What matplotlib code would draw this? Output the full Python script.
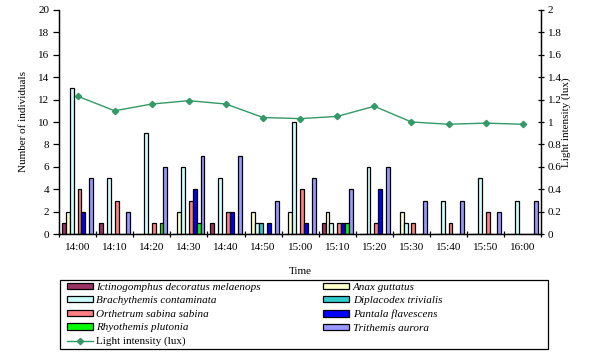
import matplotlib
matplotlib.use("Agg")
import matplotlib.pyplot as plt
import numpy as np
from matplotlib.lines import Line2D
from matplotlib.patches import Patch, Rectangle

times = ["14:00", "14:10", "14:20", "14:30", "14:40", "14:50", "15:00",
         "15:10", "15:20", "15:30", "15:40", "15:50", "16:00"]

ictinogomphus = [1, 1, 0, 0, 1, 0, 0, 1, 0, 0, 0, 0, 0]
anax = [2, 0, 0, 2, 0, 2, 2, 2, 0, 2, 0, 0, 0]
brachythemis = [13, 5, 9, 6, 5, 1, 10, 1, 6, 1, 3, 5, 3]
diplacodex = [0, 0, 0, 0, 0, 1, 0, 0, 0, 0, 0, 0, 0]
orthetrum = [4, 3, 1, 3, 2, 0, 4, 1, 1, 1, 1, 2, 0]
pantala = [2, 0, 0, 4, 2, 1, 1, 1, 4, 0, 0, 0, 0]
rhyothemis = [0, 0, 1, 1, 0, 0, 0, 1, 0, 0, 0, 0, 0]
trithemis = [5, 2, 6, 7, 7, 3, 5, 4, 6, 3, 3, 2, 3]
light = [1.23, 1.10, 1.16, 1.19, 1.16, 1.04, 1.03, 1.05, 1.14, 1.00, 0.98, 0.99, 0.98]

series_names = ["Ictinogomphus decoratus melaenops", "Anax guttatus",
                "Brachythemis contaminata", "Diplacodex trivialis",
                "Orthetrum sabina sabina", "Pantala flavescens",
                "Rhyothemis plutonia", "Trithemis aurora"]
series_vals = [ictinogomphus, anax, brachythemis, diplacodex, orthetrum,
               pantala, rhyothemis, trithemis]
colors = ["#993366", "#FFFFCC", "#CCFFFF", "#33CCCC", "#FF8080", "#0000FF",
          "#00FF00", "#9999FF"]
line_color = "#339966"

plt.rcParams['font.family'] = ['Liberation Serif', 'DejaVu Serif']
fs = 8

W, H = 594, 364
fig = plt.figure(figsize=(W/100, H/100), dpi=100)
ax = fig.add_axes([59/W, 1-234.3/H, (541.3-59)/W, (234.3-9.7)/H])
ax2 = ax.twinx()

x = np.arange(len(times))
w = 1/9.5
handles = {}
for j, (name, vals, c) in enumerate(zip(series_names, series_vals, colors)):
    ax.bar(x + (j-3.5)*w, vals, width=w, color=c, edgecolor='black', linewidth=0.9)
    handles[name] = Patch(facecolor=c, edgecolor='black', linewidth=0.9)

ax2.plot(x, light, color=line_color, marker='D', markersize=3.2, linewidth=1.0)
lh = Line2D([], [], color=line_color, marker='D', markersize=3.2, linewidth=1.0)

ax.set_xlim(-0.5, len(times)-0.5)
ax.set_ylim(0, 20)
ax2.set_ylim(0, 2)
ax.set_yticks(np.arange(0, 21, 2))
ax2.set_yticks(np.arange(0, 2.01, 0.2))
ax2.set_yticklabels(["0", "0.2", "0.4", "0.6", "0.8", "1", "1.2", "1.4", "1.6", "1.8", "2"])
ax.set_xticks(x)
ax.set_xticklabels(times)
ax.set_xticks(np.arange(-0.5, len(times), 1), minor=True)
ax.tick_params(axis='x', which='major', length=0, labelsize=fs, pad=6)
ax.tick_params(axis='x', which='minor', length=5, direction='inout', width=0.9)
ax.tick_params(axis='y', length=4, direction='out', labelsize=fs, width=0.9, pad=3)
ax2.tick_params(axis='y', length=5, direction='inout', labelsize=fs, width=0.9, pad=2)

for a in (ax, ax2):
    a.spines['top'].set_visible(False)
    for s in ('left', 'right', 'bottom'):
        a.spines[s].set_linewidth(0.9)

ax.set_xlabel("Time", fontsize=fs, labelpad=11)
ax.set_ylabel("Number of individuals", fontsize=fs, labelpad=7)
fig.text(566/W, 1-122/H, "Light intensity (lux)", rotation=90, fontsize=fs,
         ha='center', va='center')

# legend frame
fig.patches.append(Rectangle((60/W, 1-349/H), (548-60)/W, (349-280)/H,
                             transform=fig.transFigure, fill=False,
                             edgecolor='black', linewidth=0.9))

order = [series_names[0], series_names[2], series_names[4], series_names[6], "light",
         series_names[1], series_names[3], series_names[5], series_names[7]]
hl = [lh if n == "light" else handles[n] for n in order]
labels = ["Light intensity (lux)" if n == "light" else n for n in order]
leg = fig.legend(hl, labels, ncol=2, loc='upper left',
                 bbox_to_anchor=(67/W, 1-282.5/H),
                 fontsize=fs, frameon=False,
                 borderpad=0.0, labelspacing=0.4,
                 handlelength=2.35, handleheight=0.5, handletextpad=0.3,
                 columnspacing=5.6, borderaxespad=0)
for t in leg.get_texts():
    if t.get_text() != "Light intensity (lux)":
        t.set_fontstyle('italic')

fig.savefig("out.png", dpi=100)
